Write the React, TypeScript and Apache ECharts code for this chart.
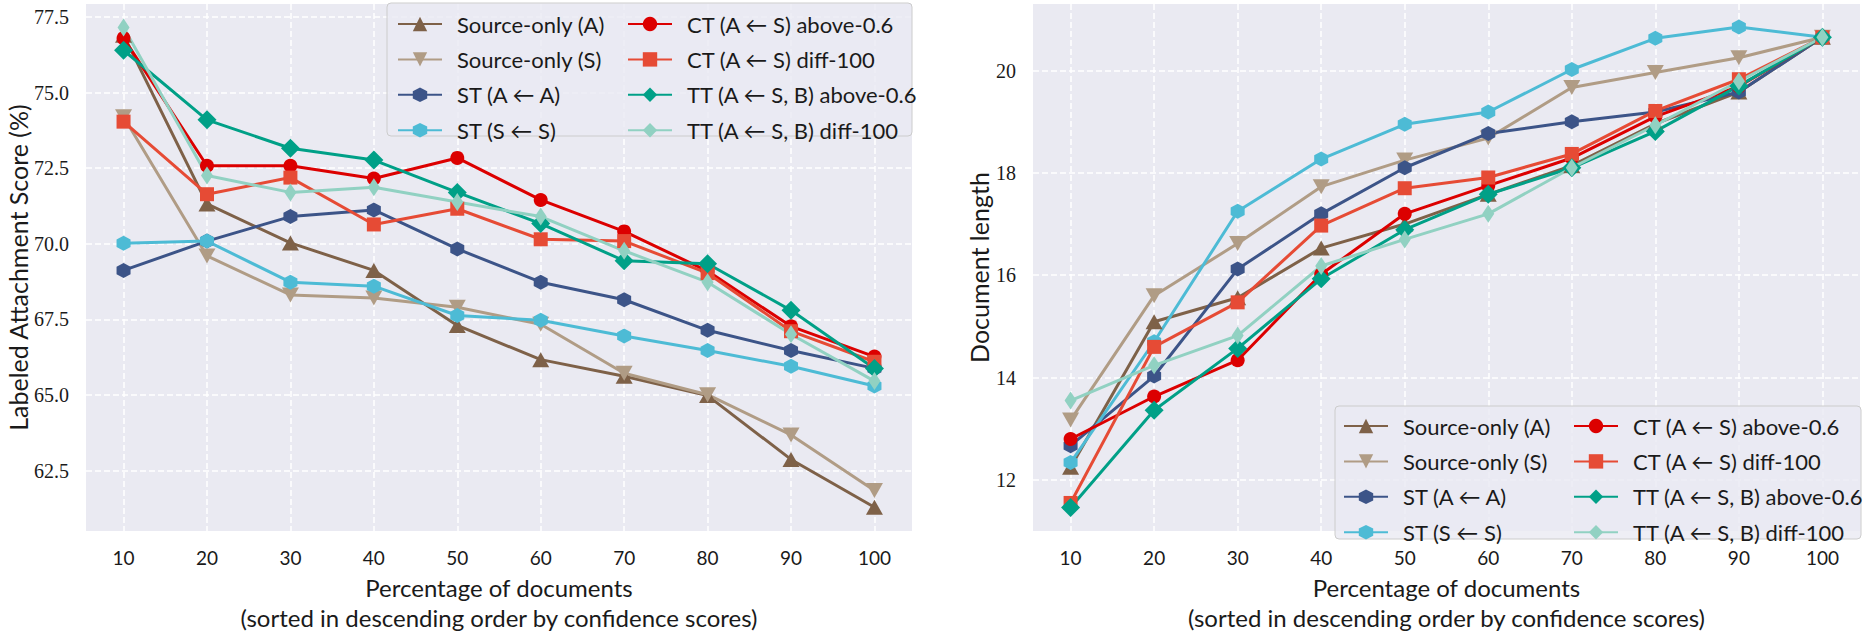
import React, { useEffect, useRef } from "react";
import * as echarts from "echarts";

const percents = [10, 20, 30, 40, 50, 60, 70, 80, 90, 100];

const seriesNames = [
  "Source-only (A)",
  "Source-only (S)",
  "ST (A ← A)",
  "ST (S ← S)",
  "CT (A ← S) above-0.6",
  "CT (A ← S) diff-100",
  "TT (A ← S, B) above-0.6",
  "TT (A ← S, B) diff-100",
];

// Left panel: Labeled Attachment Score (%)
const lasSourceA = [76.9, 71.32, 70.03, 69.12, 67.3, 66.17, 65.62, 64.98, 62.87, 61.29];
const lasSourceS = [74.2, 69.6, 68.31, 68.21, 67.9, 67.34, 65.72, 65.01, 63.68, 61.84];
const lasSTAA = [69.12, 70.09, 70.9, 71.12, 69.83, 68.73, 68.15, 67.14, 66.47, 65.88];
const lasSTSS = [70.02, 70.09, 68.73, 68.6, 67.63, 67.47, 66.95, 66.47, 65.95, 65.3];
const lasCTAbove = [76.8, 72.58, 72.58, 72.16, 72.84, 71.45, 70.41, 69.1, 67.27, 66.27];
const lasCTDiff = [74.04, 71.64, 72.19, 70.64, 71.16, 70.15, 70.09, 69.03, 67.11, 66.1];
const lasTTAbove = [76.4, 74.1, 73.16, 72.77, 71.7, 70.67, 69.44, 69.34, 67.8, 65.88];
const lasTTDiff = [77.15, 72.26, 71.7, 71.87, 71.38, 70.9, 69.77, 68.73, 67.01, 65.46];

// Right panel: Document length
const lenSourceA = [12.25, 15.09, 15.56, 16.53, 17.0, 17.58, 18.14, 18.96, 19.58, 20.65];
const lenSourceS = [13.17, 15.6, 16.62, 17.73, 18.25, 18.68, 19.67, 19.96, 20.25, 20.65];
const lenSTAA = [12.67, 14.03, 16.12, 17.2, 18.1, 18.77, 19.0, 19.19, 19.58, 20.65];
const lenSTSS = [12.34, 14.7, 17.25, 18.27, 18.95, 19.19, 20.02, 20.63, 20.85, 20.65];
const lenCTAbove = [12.8, 13.63, 14.34, 16.02, 17.2, 17.75, 18.29, 19.1, 19.69, 20.65];
const lenCTDiff = [11.55, 14.6, 15.47, 16.97, 17.7, 17.91, 18.37, 19.21, 19.83, 20.65];
const lenTTAbove = [11.46, 13.36, 14.57, 15.93, 16.89, 17.58, 18.1, 18.81, 19.7, 20.65];
const lenTTDiff = [13.55, 14.24, 14.82, 16.18, 16.7, 17.2, 18.1, 18.93, 19.79, 20.65];

const lasTicks = [62.5, 65, 67.5, 70, 72.5, 75, 77.5];
const lenTicks = [12, 14, 16, 18, 20];

const leftData = [lasSourceA, lasSourceS, lasSTAA, lasSTSS, lasCTAbove, lasCTDiff, lasTTAbove, lasTTDiff];
const rightData = [lenSourceA, lenSourceS, lenSTAA, lenSTSS, lenCTAbove, lenCTDiff, lenTTAbove, lenTTDiff];

const hexPath = "path://M0,-10 L8.66,-5 L8.66,5 L0,10 L-8.66,5 L-8.66,-5 Z";

const styles: any[] = [
  { color: "#7E6148", symbol: "triangle", size: [17, 15], rotate: 0 },
  { color: "#B09C85", symbol: "triangle", size: [17, 15], rotate: 180 },
  { color: "#3C5488", symbol: hexPath, size: [14, 15], rotate: 0 },
  { color: "#4DBBD5", symbol: hexPath, size: [14, 15], rotate: 0 },
  { color: "#DC0000", symbol: "circle", size: 14, rotate: 0 },
  { color: "#E64B35", symbol: "rect", size: 14, rotate: 0 },
  { color: "#00A087", symbol: "diamond", size: 19, rotate: 0 },
  { color: "#91D1C2", symbol: "diamond", size: [12, 18], rotate: 0 },
];

const SANS = "Lato, 'DejaVu Sans', sans-serif";
const SERIF = "'Liberation Serif', 'DejaVu Serif', serif";
const TXT = "#1a1a1a";

function makeXAxis(gridIndex: number) {
  return {
    type: "value",
    gridIndex,
    min: 5.5,
    max: 104.5,
    axisLine: { show: false },
    axisTick: { show: false, customValues: percents },
    axisLabel: {
      customValues: percents,
      fontFamily: SANS,
      fontSize: 19,
      color: TXT,
      margin: 17,
    },
    splitLine: { show: true, lineStyle: { color: "#ffffff", type: [6, 3], width: 1.5 } },
    name: "Percentage of documents\n(sorted in descending order by confidence scores)",
    nameLocation: "middle",
    nameGap: 35,
    nameTextStyle: { fontFamily: SANS, fontSize: 24, lineHeight: 30, color: TXT },
  };
}

function makeYAxis(gridIndex: number, min: number, max: number, ticks: number[], name: string, gap: number, dec: number) {
  return {
    type: "value",
    gridIndex,
    min,
    max,
    axisLine: { show: false },
    axisTick: { show: false, customValues: ticks },
    axisLabel: {
      customValues: ticks,
      fontFamily: SERIF,
      fontSize: 20,
      color: TXT,
      margin: 17,
      formatter: (v: number) => v.toFixed(dec),
    },
    splitLine: { show: true, lineStyle: { color: "#ffffff", type: [6, 3], width: 1.5 } },
    name,
    nameLocation: "middle",
    nameGap: gap,
    nameTextStyle: { fontFamily: SANS, fontSize: 25, color: TXT },
  };
}

function makeSeries(data: number[][], axisIndex: number) {
  return data.map((vals, i) => ({
    type: "line",
    name: seriesNames[i],
    xAxisIndex: axisIndex,
    yAxisIndex: axisIndex,
    data: percents.map((p, j) => [p, vals[j]]),
    symbol: styles[i].symbol,
    symbolSize: styles[i].size,
    symbolRotate: styles[i].rotate,
    showAllSymbol: true,
    lineStyle: { color: styles[i].color, width: 3 },
    itemStyle: { color: styles[i].color, borderWidth: 0 },
    emphasis: { disabled: true },
  }));
}

function makeLegend(names: string[], left: number, top: number) {
  return {
    orient: "vertical",
    left,
    top,
    padding: 0,
    itemWidth: 44,
    itemHeight: 18,
    itemGap: 13.4,
    selectedMode: false,
    data: names,
    z: 10,
    textStyle: { fontFamily: SANS, fontSize: 22, color: TXT, padding: [0, 0, 0, 10] },
  };
}

export default function App() {
  const ref = useRef<HTMLDivElement>(null);
  useEffect(() => {
    if (!ref.current) return;
    const chart = echarts.init(ref.current, null, { renderer: "svg" });
    chart.setOption({
      animation: false,
      backgroundColor: "#ffffff",
      grid: [
        { left: 86, top: 4, width: 826, height: 535, backgroundColor: "#EAEAF2", show: true, borderWidth: 0 },
        { left: 1033, top: 4, width: 827, height: 535, backgroundColor: "#EAEAF2", show: true, borderWidth: 0 },
      ],
      xAxis: [makeXAxis(0), makeXAxis(1)],
      yAxis: [
        makeYAxis(0, 60.5, 77.93, lasTicks, "Labeled Attachment Score (%)", 52, 1),
        makeYAxis(1, 11.0, 21.3, lenTicks, "Document length", 42, 0),
      ],
      legend: [
        makeLegend(seriesNames.slice(0, 4), 397, 13),
        makeLegend(seriesNames.slice(4), 627, 13),
        makeLegend(seriesNames.slice(0, 4), 1343, 415),
        makeLegend(seriesNames.slice(4), 1573, 415),
      ],
      graphic: [
        {
          type: "rect",
          z: 5,
          shape: { x: 387, y: 3, width: 525, height: 133, r: 4 },
          style: { fill: "rgba(234,234,242,0.8)", stroke: "#cccccc", lineWidth: 1 },
        },
        {
          type: "rect",
          z: 5,
          shape: { x: 1335, y: 406, width: 526, height: 133, r: 4 },
          style: { fill: "rgba(234,234,242,0.8)", stroke: "#cccccc", lineWidth: 1 },
        },
      ],
      series: [...makeSeries(leftData, 0), ...makeSeries(rightData, 1)],
    });
    return () => chart.dispose();
  }, []);
  return (
    <div
      ref={ref}
      style={{ position: "fixed", left: 0, top: 0, width: 1863, height: 637, background: "#fff" }}
    />
  );
}
